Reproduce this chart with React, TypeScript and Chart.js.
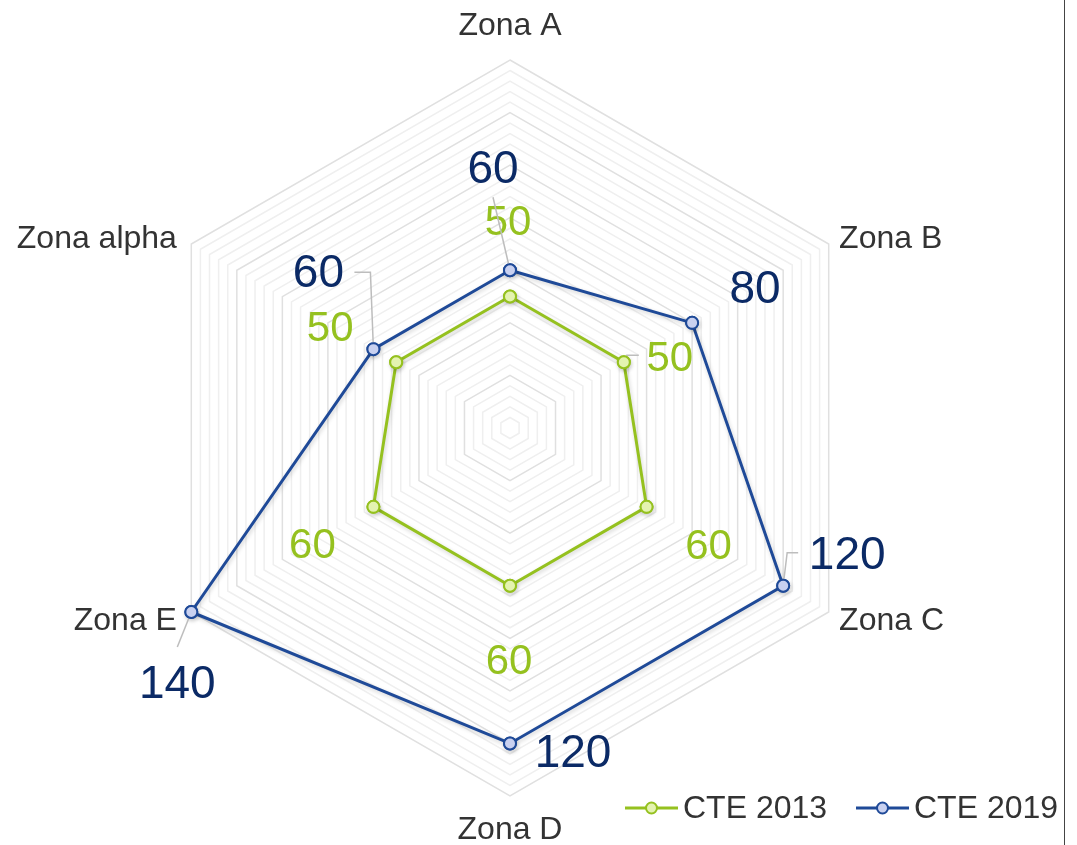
import React, { useEffect, useRef } from "react";
import { Chart, registerables } from "chart.js";

Chart.register(...registerables);

const categories = ["Zona A", "Zona B", "Zona C", "Zona D", "Zona E", "Zona alpha"];
const seriesNames = ["CTE 2013", "CTE 2019"];
const cte2013 = [50, 50, 60, 60, 60, 50];
const cte2019 = [60, 80, 120, 120, 140, 60];
const axisMin = 0;
const axisMax = 140;
const axisStep = 4;

const GREEN = "#95c11f";
const NAVY = "#1f4a98";
const NAVY_TEXT = "#0b2a66";
const FONT = "'Liberation Sans', Arial, sans-serif";

// label offsets (px) relative to each point, and optional leader lines
const labelOffsets2013 = [
  [-2, -75], [46, -5], [62, 39], [-1, 75], [-61, 38], [-66, -35],
];
const labelOffsets2019 = [
  [-17, -102], [63, -35], [64, -31], [63, 9], [-14, 71], [-55, -77],
];
// leaders: list of relative points ending at the point
const leaders2013: (number[][] | null)[] = [null, [[15, -7], [3, -7]], null, null, null, null];
const leaders2019: (number[][] | null)[] = [
  [[-17, -73]],
  null,
  [[15, -33], [4, -33]],
  null,
  [[-14, 35]],
  [[-19, -77], [-3, -77]],
];

const overlayPlugin = {
  id: "overlay",
  beforeDatasetsDraw(chart: any) {
    const ctx = chart.ctx;
    ctx.save();
    ctx.shadowColor = "rgba(0,0,0,0.18)";
    ctx.shadowBlur = 4;
    ctx.shadowOffsetX = 1;
    ctx.shadowOffsetY = 2;
  },
  afterDatasetsDraw(chart: any) {
    chart.ctx.restore();
  },
  afterDraw(chart: any) {
    const ctx = chart.ctx;
    const scale = chart.scales.r;
    ctx.save();
    // category labels
    ctx.font = `32px ${FONT}`;
    ctx.fillStyle = "#333333";
    ctx.textBaseline = "middle";
    categories.forEach((c, i) => {
      const p = scale.getPointPosition(i, scale.drawingArea + 12);
      let x = p.x;
      let y = p.y;
      if (i === 0) { ctx.textAlign = "center"; y -= 22; }
      else if (i === 3) { ctx.textAlign = "center"; y += 22; }
      else if (i === 1 || i === 2) { ctx.textAlign = "left"; y += i === 2 ? 3 : 1; }
      else { ctx.textAlign = "right"; x -= 4; y += i === 4 ? 3 : 1; }
      ctx.fillText(c, x, y);
    });

    // data labels
    const drawLabels = (dsIndex: number, offsets: number[][], leaders: (number[][] | null)[], color: string, size: number) => {
      const meta = chart.getDatasetMeta(dsIndex);
      meta.data.forEach((el: any, i: number) => {
        const lead = leaders[i];
        if (lead) {
          ctx.strokeStyle = "#bdbdbd";
          ctx.lineWidth = 1.5;
          ctx.beginPath();
          ctx.moveTo(el.x + lead[0][0], el.y + lead[0][1]);
          for (let k = 1; k < lead.length; k++) ctx.lineTo(el.x + lead[k][0], el.y + lead[k][1]);
          ctx.lineTo(el.x, el.y);
          ctx.stroke();
        }
      });
      ctx.font = `${size}px ${FONT}`;
      ctx.fillStyle = color;
      ctx.textAlign = "center";
      ctx.textBaseline = "middle";
      const values = chart.data.datasets[dsIndex].data;
      meta.data.forEach((el: any, i: number) => {
        ctx.fillText(String(values[i]), el.x + offsets[i][0], el.y + offsets[i][1] + 2);
      });
    };
    drawLabels(0, labelOffsets2013, leaders2013, GREEN, 42);
    drawLabels(1, labelOffsets2019, leaders2019, NAVY_TEXT, 46);

    // redraw points on top of leader lines
    [0, 1].forEach((d) => {
      const meta = chart.getDatasetMeta(d);
      meta.data.forEach((el: any) => el.draw(ctx));
    });

    // legend
    const legendItems = [
      { name: seriesNames[0], color: GREEN, fill: "#e4f3b0", x: 625 },
      { name: seriesNames[1], color: NAVY, fill: "#c9d1f0", x: 856 },
    ];
    const ly = 808;
    legendItems.forEach((it) => {
      ctx.strokeStyle = it.color;
      ctx.lineWidth = 3;
      ctx.beginPath();
      ctx.moveTo(it.x, ly);
      ctx.lineTo(it.x + 53, ly);
      ctx.stroke();
      ctx.beginPath();
      ctx.arc(it.x + 26.5, ly, 5.5, 0, Math.PI * 2);
      ctx.fillStyle = it.fill;
      ctx.fill();
      ctx.lineWidth = 2;
      ctx.stroke();
      ctx.font = `32px ${FONT}`;
      ctx.fillStyle = "#333333";
      ctx.textAlign = "left";
      ctx.textBaseline = "middle";
      ctx.fillText(it.name, it.x + 58, ly + 1);
    });

    // right border line
    ctx.fillStyle = "#444444";
    ctx.fillRect(1064, 0, 1, 845);
    ctx.restore();
  },
};

export default function App() {
  const canvasRef = useRef<HTMLCanvasElement | null>(null);

  useEffect(() => {
    if (!canvasRef.current) return;
    const chart = new Chart(canvasRef.current, {
      type: "radar",
      data: {
        labels: categories,
        datasets: [
          {
            label: seriesNames[0],
            data: cte2013,
            borderColor: GREEN,
            backgroundColor: "rgba(0,0,0,0)",
            borderWidth: 3,
            pointRadius: 6,
            pointBorderWidth: 2,
            pointBackgroundColor: "#e4f3b0",
            pointBorderColor: GREEN,
            fill: false,
          },
          {
            label: seriesNames[1],
            data: cte2019,
            borderColor: NAVY,
            backgroundColor: "rgba(0,0,0,0)",
            borderWidth: 3,
            pointRadius: 6,
            pointBorderWidth: 2,
            pointBackgroundColor: "#c9d1f0",
            pointBorderColor: NAVY,
            fill: false,
          },
        ],
      },
      options: {
        animation: false,
        responsive: true,
        maintainAspectRatio: false,
        layout: { padding: { left: 142, right: 199, top: 60, bottom: 49 } },
        plugins: {
          legend: { display: false },
          tooltip: { enabled: false },
        },
        scales: {
          r: {
            min: axisMin,
            max: axisMax,
            ticks: { display: false, stepSize: axisStep },
            angleLines: { display: false },
            pointLabels: { display: false },
            grid: {
              color: (c: any) =>
                c.tick && c.tick.value % 20 === 0 ? "#e0e0e0" : "#efefef",
              lineWidth: 1.5,
            },
          },
        },
      },
      plugins: [overlayPlugin],
    });
    return () => chart.destroy();
  }, []);

  return (
    <div style={{ position: "absolute", left: 0, top: 0, width: 1077, height: 845, background: "#fff" }}>
      <canvas ref={canvasRef} />
    </div>
  );
}
